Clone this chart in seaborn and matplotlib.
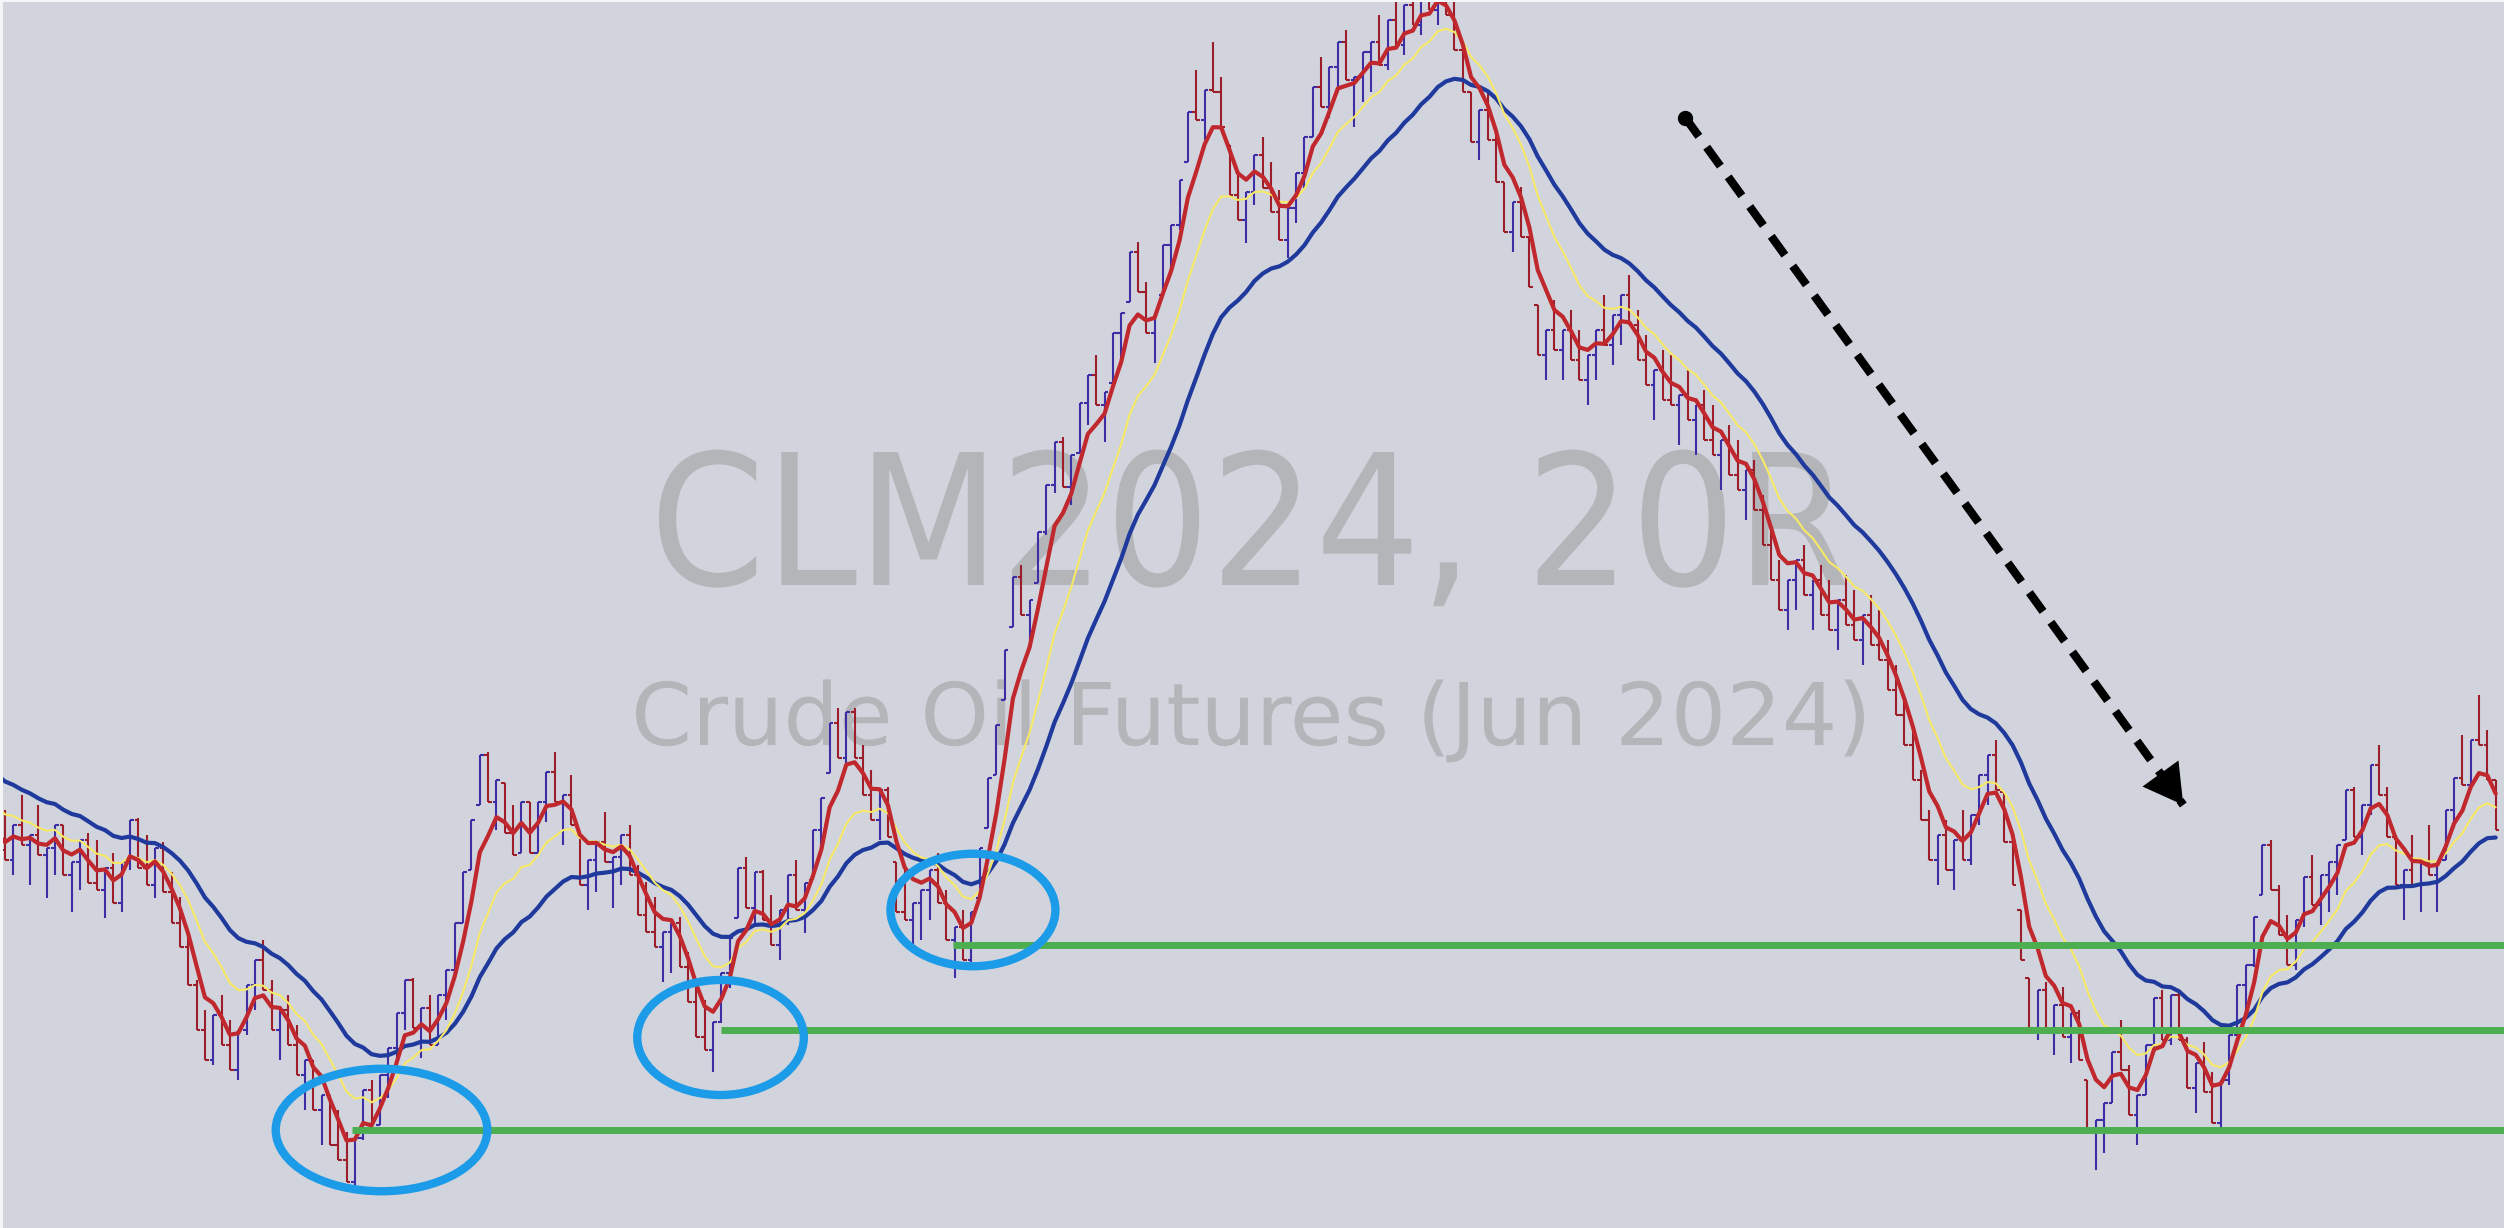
import numpy as np
import pandas as pd
import matplotlib
matplotlib.use("Agg")
import matplotlib.pyplot as plt
import seaborn as sns
from matplotlib.patches import Ellipse, PathPatch
from matplotlib.textpath import TextPath
from matplotlib.font_manager import FontProperties
from matplotlib.transforms import Affine2D

# CLM2024 20-tick range bars, close of each bar (USD) left to right
warmup_close = [83.80, 83.84, 83.74, 83.78, 83.70, 83.72, 83.64, 83.66, 83.58, 83.52,
                83.56, 83.46, 83.40, 83.44, 83.34, 83.28, 83.32, 83.24, 83.26, 83.20]

close = [
    83.16, 83.30, 83.22, 83.26, 83.18, 83.21, 83.30, 83.10, 83.15, 83.24,
    83.07, 83.04, 83.13, 82.99, 83.15, 83.32, 83.13, 83.06, 83.21, 83.03,
    82.91, 82.81, 82.66, 82.48, 82.36, 82.54, 82.42, 82.32, 82.48, 82.66,
    82.76, 82.64, 82.48, 82.56, 82.42, 82.30, 82.36, 82.16, 82.22, 82.02,
    81.96, 81.87, 82.05, 82.24, 82.08, 82.30, 82.41, 82.55, 82.68, 82.49,
    82.57, 82.42, 82.62, 82.72, 82.91, 83.11, 83.32, 83.58, 83.39, 83.48,
    83.27, 83.18, 83.39, 83.19, 83.39, 83.51, 83.39, 83.42, 83.30, 83.06,
    83.16, 83.23, 83.15, 83.17, 83.26, 83.10, 82.94, 82.87, 82.81, 82.87,
    82.91, 82.73, 82.59, 82.45, 82.40, 82.51, 82.71, 82.85, 83.13, 82.97,
    83.11, 82.92, 82.82, 82.96, 83.10, 82.96, 83.07, 83.28, 83.41, 83.71,
    83.57, 83.75, 83.57, 83.42, 83.32, 83.44, 83.25, 82.95, 82.92, 82.99,
    83.04, 83.12, 82.99, 82.84, 82.89, 82.76, 82.95, 83.21, 83.49, 83.70,
    84.00, 84.29, 84.14, 84.20, 84.47, 84.66, 84.83, 84.65, 84.78, 84.99,
    85.10, 84.98, 85.03, 85.27, 85.35, 85.59, 85.43, 85.27, 85.35, 85.62,
    85.70, 85.88, 86.15, 86.12, 86.24, 86.23, 86.09, 85.82, 85.72, 85.83,
    85.98, 85.85, 85.75, 85.64, 85.77, 85.91, 86.05, 86.25, 86.17, 86.33,
    86.43, 86.28, 86.29, 86.39, 86.43, 86.34, 86.52, 86.42, 86.58, 86.50,
    86.66, 86.56, 86.70, 86.54, 86.40, 86.23, 86.03, 86.16, 86.04, 85.87,
    85.67, 85.79, 85.65, 85.45, 85.18, 85.28, 85.20, 85.28, 85.16, 85.08,
    85.18, 85.28, 85.22, 85.34, 85.42, 85.30, 85.16, 85.06, 85.12, 85.00,
    84.98, 85.02, 84.92, 84.98, 84.84, 84.78, 84.84, 84.70, 84.64, 84.72,
    84.56, 84.42, 84.28, 84.16, 84.28, 84.36, 84.22, 84.28, 84.14, 84.08,
    84.20, 84.10, 84.04, 84.14, 84.02, 83.96, 83.84, 83.74, 83.62, 83.48,
    83.32, 83.16, 83.26, 83.12, 83.24, 83.16, 83.34, 83.50, 83.58, 83.44,
    83.23, 83.06, 82.76, 82.49, 82.64, 82.47, 82.58, 82.45, 82.55, 82.36,
    82.08, 82.12, 82.19, 82.39, 82.32, 82.14, 82.22, 82.42, 82.61, 82.44,
    82.62, 82.44, 82.25, 82.35, 82.23, 82.11, 82.28, 82.46, 82.66, 82.74,
    82.93, 83.22, 83.04, 82.86, 82.74, 82.92, 83.09, 82.98, 83.10, 83.15,
    83.22, 83.44, 83.25, 83.38, 83.54, 83.42, 83.25, 83.06, 83.12, 83.06,
    83.15, 83.10, 83.15, 83.36, 83.49, 83.46, 83.64, 83.62, 83.48, 83.28,
]
bar_range = 0.20  # 20 ticks

# moving averages shown on the chart
ema_fast, ema_mid, ema_slow = 5, 12, 24

# support lines (price level, first bar) and the circled lows
support_level = [82.08, 82.48, 82.82]
support_start = [41.7, 86.0, 113.8]
circle_bar = [45.2, 85.9, 116.2]
circle_price = [82.08, 82.45, 82.96]
circle_w = [25.4, 20.0, 19.8]
circle_h = [0.49, 0.46, 0.45]

# dashed trend arrow (bar, price)
trend_bar = [201.7, 261.5]
trend_price = [86.13, 83.38]

title = "CLM2024, 20R"
subtitle = "Crude Oil Futures (Jun 2024)"

# ---- data frame ----
all_close = np.array(warmup_close + close)
bars = np.arange(len(all_close)) - len(warmup_close)
df = pd.DataFrame({"bar": bars, "close": all_close})
df["fast"] = df["close"].ewm(span=ema_fast, adjust=False).mean()
df["mid"] = df["close"].ewm(span=ema_mid, adjust=False).mean()
df["slow"] = df["close"].ewm(span=ema_slow, adjust=False).mean()

prev = np.r_[all_close[0], all_close[:-1]]
up = all_close >= prev
high = np.where(up, all_close, all_close + bar_range)
low = np.where(up, all_close - bar_range, all_close)
opn = np.clip(prev, low, high)
bar_col = np.where(up, "#3d2ea6", "#9c1e2b")

# ---- figure ----
sns.set_theme(style="white")
W, H = 2504, 1228
fig = plt.figure(figsize=(W / 100, H / 100), dpi=100)
fig.patch.set_facecolor("#f4f5f7")
ax = fig.add_axes([3 / W, 0, 1 - 3 / W, 1 - 2 / H])
ax.set_facecolor("#d1d4dc")
ax.set_xlim(-0.24, 300.0)
ax.set_ylim(81.688, 86.592)
ax.set_xticks([])
ax.set_yticks([])
for s in ax.spines.values():
    s.set_visible(False)

# watermark
def watermark(txt, left, base, width, cap):
    fp = FontProperties(family="DejaVu Sans")
    tp = TextPath((0, 0), txt, size=100, prop=fp)
    ext = tp.get_extents()
    caph = TextPath((0, 0), "H", size=100, prop=fp).get_extents().height
    sx = width / ext.width
    sy = cap / caph
    tr = (Affine2D().translate(-ext.x0, 0).scale(sx / W, sy / H)
          .translate(left / W, 1 - base / H) + fig.transFigure)
    ax.add_patch(PathPatch(tp, transform=tr, facecolor="#b4b5b9",
                           edgecolor="none", zorder=0.5, clip_on=False))

watermark(title, 659, 585, 1187, 133)
watermark(subtitle, 636, 745, 1228, 63)

# range bars
tick = 0.45
ax.vlines(bars, low, high, colors=bar_col, lw=1.5, zorder=2)
ax.hlines(opn, bars - tick, bars, colors=bar_col, lw=1.5, zorder=2)
ax.hlines(all_close, bars, bars + tick, colors=bar_col, lw=1.5, zorder=2)

# moving averages
sns.lineplot(data=df, x="bar", y="slow", ax=ax, color="#1f3a9c", lw=3.0, zorder=3)
sns.lineplot(data=df, x="bar", y="mid", ax=ax, color="#f7e965", lw=1.5, zorder=3)
sns.lineplot(data=df, x="bar", y="fast", ax=ax, color="#c0282e", lw=3.0, zorder=4)
ax.set_xlabel("")
ax.set_ylabel("")

# support lines and circles
for lvl, st in zip(support_level, support_start):
    ax.plot([st, 300.5], [lvl, lvl], color="#4cae50", lw=5, zorder=5,
            solid_capstyle="butt")
for cx, cy, cw, ch in zip(circle_bar, circle_price, circle_w, circle_h):
    ax.add_patch(Ellipse((cx, cy), cw, ch, fill=False, edgecolor="#1c9be8",
                         lw=6, zorder=6))

# dashed trend arrow
ax.plot(trend_bar, trend_price, color="black", lw=6, dashes=(2.8, 1.6),
        dash_capstyle="butt", zorder=7)
ax.plot(trend_bar[0], trend_price[0], "o", color="black", ms=10, zorder=7)
ux, uy = 0.587, 0.810
ax.annotate("", xy=(trend_bar[1], trend_price[1]),
            xytext=(-ux * 28, uy * 28), textcoords="offset points",
            arrowprops=dict(arrowstyle="-|>,head_length=0.7,head_width=0.4",
                            mutation_scale=40, color="black", lw=0,
                            shrinkA=0, shrinkB=0),
            zorder=8)

fig.savefig("out.png", dpi=100, facecolor=fig.get_facecolor())
